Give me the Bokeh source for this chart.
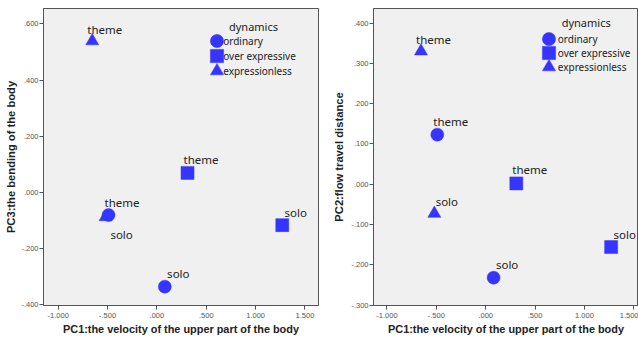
from bokeh.plotting import figure
from bokeh.models import Range1d, Legend, LegendItem, Label, ColumnDataSource, FixedTicker
from bokeh.layouts import row
from bokeh.core.properties import value
from bokeh.embed import file_html
from bokeh.resources import INLINE

# ---- data ----
dynamics_levels = ["ordinary", "over expressive", "expressionless"]
point_dynamics = ["ordinary", "ordinary", "over expressive", "over expressive",
                  "expressionless", "expressionless"]
point_section = ["theme", "solo", "theme", "solo", "theme", "solo"]
pc1 = [-0.49, 0.08, 0.31, 1.27, -0.655, -0.52]
pc2 = [0.123, -0.232, 0.002, -0.156, 0.330, -0.073]
pc3 = [-0.080, -0.335, 0.070, -0.116, 0.539, -0.087]

x_ticks = [-1.0, -0.5, 0.0, 0.5, 1.0, 1.5]
x_tick_labels = ["-1.000", "-.500", ".000", ".500", "1.000", "1.500"]
pc3_ticks = [-0.4, -0.2, 0.0, 0.2, 0.4, 0.6]
pc3_tick_labels = ["-.400", "-.200", ".000", ".200", ".400", ".600"]
pc2_ticks = [-0.3, -0.2, -0.1, 0.0, 0.1, 0.2, 0.3, 0.4]
pc2_tick_labels = ["-.300", "-.200", "-.100", ".000", ".100", ".200", ".300", ".400"]

x_axis_title = "PC1:the velocity of the upper part of the body"
pc3_axis_title = "PC3:the bending of the body"
pc2_axis_title = "PC2:flow travel distance"
legend_title = "dynamics"

# ---- style ----
BLUE = "#3535ff"
TXT = "#222222"
markers = {"ordinary": "circle", "over expressive": "square", "expressionless": "triangle"}
draw_order = ["expressionless", "over expressive", "ordinary"]
left_label_dx = [13.5, 13.5, 13.5, 13.5, 12.5, 16.0]
left_label_dy = [-13, -13, -13, -13, -12, 18]
right_label_dx = [13.5, 13.5, 13.5, 13.5, 12.5, 12.5]
right_label_dy = [-13.5, -13, -13.5, -13, -12, -12]
GLYPH_BOX = 33  # legend marker drawn at 0.4 * box


def make_panel(yvals, yticks, ytick_labels, ytitle, xr, yr, width, border_left,
               border_right, border_top, dx, dy, key_x, key_ys, text_x, title_pos,
               ylabel_standoff):
    p = figure(width=width, height=337, x_range=Range1d(*xr), y_range=Range1d(*yr),
               output_backend="svg", toolbar_location=None,
               min_border_left=border_left, min_border_right=border_right,
               min_border_top=border_top, min_border_bottom=30)
    p.background_fill_color = "#f0f0f0"
    p.border_fill_color = "white"
    p.outline_line_color = "#555555"
    p.grid.visible = False

    rmap = {}
    for lvl in draw_order:
        idx = [i for i, d in enumerate(point_dynamics) if d == lvl]
        src = ColumnDataSource(dict(x=[pc1[i] for i in idx], y=[yvals[i] for i in idx]))
        rmap[lvl] = p.scatter("x", "y", source=src, marker=markers[lvl], size=13,
                              fill_color=BLUE, line_color=BLUE, line_width=0.5)

    lsrc = ColumnDataSource(dict(x=pc1, y=yvals, t=point_section, dx=dx, dy=dy))
    p.text(x="x", y="y", text="t", source=lsrc, x_offset="dx", y_offset="dy",
           text_align="center", text_baseline="middle",
           text_font=value("Noto Sans"), text_font_size="11.5px", text_color=TXT)

    # legend: one key per level, text as labels beside it
    for lvl, ky in zip(dynamics_levels, key_ys):
        leg = Legend(items=[LegendItem(label=value(""), renderers=[rmap[lvl]])],
                     location=(key_x - GLYPH_BOX / 2, ky - GLYPH_BOX / 2),
                     glyph_width=GLYPH_BOX, glyph_height=GLYPH_BOX,
                     label_standoff=0, label_width=0, padding=0, margin=0,
                     border_line_color=None, background_fill_alpha=0)
        p.add_layout(leg)
        p.add_layout(Label(x=text_x, y=ky, x_units="screen", y_units="screen",
                           text=lvl, text_align="left", text_baseline="middle",
                           text_font="Noto Sans", text_font_size="10px", text_color=TXT))
    p.add_layout(Label(x=title_pos[0], y=title_pos[1], x_units="screen", y_units="screen",
                       text=legend_title, text_align="center", text_baseline="middle",
                       text_font="Noto Sans", text_font_size="11px", text_color=TXT))

    p.xaxis.ticker = FixedTicker(ticks=x_ticks)
    p.xaxis.major_label_overrides = dict(zip(x_ticks, x_tick_labels))
    p.yaxis.ticker = FixedTicker(ticks=yticks)
    p.yaxis.major_label_overrides = dict(zip(yticks, ytick_labels))
    p.xaxis.axis_label = x_axis_title
    p.yaxis.axis_label = ytitle
    for ax in (p.xaxis[0], p.yaxis[0]):
        ax.major_tick_out = 4
        ax.major_tick_in = 0
        ax.minor_tick_out = 0
        ax.minor_tick_in = 0
        ax.axis_line_color = "#555555"
        ax.major_tick_line_color = "#555555"
        ax.major_label_text_font = "Liberation Sans"
        ax.major_label_text_font_size = "7.5px"
        ax.major_label_text_color = "#555555"
        ax.axis_label_text_font = "Liberation Sans"
        ax.axis_label_text_font_style = "bold"
        ax.axis_label_text_color = TXT
    p.xaxis.major_label_standoff = 3
    p.xaxis.axis_label_standoff = 2
    p.xaxis.axis_label_text_font_size = "10.9px"
    p.yaxis.major_label_standoff = 1
    p.yaxis.axis_label_standoff = ylabel_standoff
    p.yaxis.axis_label_text_font_size = "11.2px"
    return p


p1 = make_panel(pc3, pc3_ticks, pc3_tick_labels, pc3_axis_title,
                (-1.149, 1.637), (-0.402, 0.655), 330, 43, 12, 8,
                left_label_dx, left_label_dy,
                173, (265, 249.3, 235), 179.7, (210, 279), 1)
p2 = make_panel(pc2, pc2_ticks, pc2_tick_labels, pc2_axis_title,
                (-1.136, 1.547), (-0.301, 0.436), 308, 41, 0, 6,
                right_label_dx, right_label_dy,
                175.7, (267, 252.7, 238.7), 184.3, (212.7, 283), 3)

layout = row(p1, p2)
open("out.html", "w").write(file_html(layout, INLINE))
